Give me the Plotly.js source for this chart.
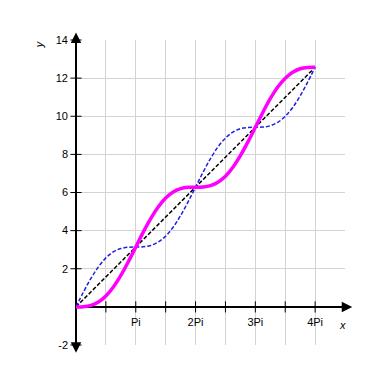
<!DOCTYPE html>
<html>
<head>
<meta charset="utf-8">
<script src="https://cdn.plot.ly/plotly-3.0.1.min.js"></script>
<style>html,body{margin:0;padding:0;background:#fff;}#chart{width:384px;height:384px;}</style>
</head>
<body>
<div id="chart"></div>
<script>
var PI = Math.PI;
// x sample positions (multiples of Pi/8)
var xs = [0,0.393,0.785,1.178,1.571,1.963,2.356,2.749,3.142,3.534,3.927,4.320,4.712,5.105,5.498,5.890,6.283,
          6.676,7.069,7.461,7.854,8.247,8.639,9.032,9.425,9.817,10.210,10.603,10.996,11.388,11.781,12.174,12.566];
// magenta solid curve
var magentaY = [0,0.01,0.08,0.25,0.57,1.04,1.65,2.37,3.14,3.92,4.63,5.24,5.71,6.03,6.20,6.27,6.28,
                6.29,6.36,6.54,6.85,7.32,7.93,8.65,9.42,10.20,10.92,11.53,12.00,12.31,12.49,12.56,12.57];
// blue dashed curve
var blueY = [0,0.78,1.49,2.10,2.57,2.89,3.06,3.13,3.14,3.15,3.22,3.40,3.71,4.18,4.79,5.51,6.28,
             7.06,7.78,8.39,8.85,9.17,9.35,9.41,9.42,9.43,9.50,9.68,10.00,10.46,11.07,11.79,12.57];
// black dashed straight line
var lineX = [0, 12.566];
var lineY = [0, 12.566];

var xTickVals = [0, PI/2, PI, 3*PI/2, 2*PI, 5*PI/2, 3*PI, 7*PI/2, 4*PI, 9*PI/2];
var xTickText = ['', '', 'Pi', '', '2Pi', '', '3Pi', '', '4Pi', ''];
var yTickVals = [-2, 0, 2, 4, 6, 8, 10, 12, 14];
var yTickText = ['-2', '', '2', '4', '6', '8', '10', '12', '14'];

var xMarkX = [PI/2, PI, 3*PI/2, 2*PI, 5*PI/2, 3*PI, 7*PI/2, 4*PI];
var yMarkY = [-2, 2, 4, 6, 8, 10, 12, 14];

var traces = [
  {x: xMarkX, y: xMarkX.map(function(){return 0;}), mode: 'markers', cliponaxis: false, hoverinfo: 'skip',
   marker: {symbol: 'line-ns', size: 8, line: {width: 1, color: '#000'}}},
  {x: yMarkY.map(function(){return 0;}), y: yMarkY, mode: 'markers', cliponaxis: false, hoverinfo: 'skip',
   marker: {symbol: 'line-ew', size: 8, line: {width: 1, color: '#000'}}},
  {x: lineX, y: lineY, mode: 'lines', line: {color: '#000', width: 1.5, dash: '4px,2px'}},
  {x: xs, y: blueY, mode: 'lines', line: {color: '#1f1fe0', width: 1.5, dash: '4px,2px', shape: 'spline'}},
  {x: xs, y: magentaY, mode: 'lines', line: {color: '#ff00ff', width: 3.5, shape: 'spline'}}
];

function arrowAnn(x, y, ax, ay) {
  return {text: '', xref: 'paper', yref: 'paper', x: x, y: y, ax: ax, ay: ay,
          showarrow: true, arrowhead: 2, arrowsize: 1.4, arrowwidth: 1.5, arrowcolor: '#000'};
}

var layout = {
  width: 384, height: 384,
  margin: {l: 76, r: 39, t: 40, b: 39},
  paper_bgcolor: '#fff', plot_bgcolor: '#fff',
  showlegend: false,
  font: {family: 'Liberation Sans, Arial, sans-serif', size: 11, color: '#000'},
  xaxis: {range: [0, 9*PI/2], tickmode: 'array', tickvals: xTickVals, ticktext: xTickText,
          showgrid: true, gridcolor: '#d3d3d3', gridwidth: 1,
          zeroline: true, zerolinecolor: '#000', zerolinewidth: 1.5,
          showline: false, ticks: '', anchor: 'free', position: 0.125, ticklabelstandoff: 7},
  yaxis: {range: [-2, 14], tickmode: 'array', tickvals: yTickVals, ticktext: yTickText,
          showgrid: true, gridcolor: '#d3d3d3', gridwidth: 1,
          zeroline: true, zerolinecolor: '#000', zerolinewidth: 1.5,
          showline: false, ticks: '', ticklabelstandoff: 7},
  annotations: [
    {text: 'y', xref: 'paper', yref: 'paper', x: -0.105, xanchor: 'right', y: 1.005, showarrow: false, textangle: -90,
     font: {size: 11, style: 'italic', color: '#000'}},
    {text: 'x', xref: 'paper', yref: 'paper', x: 0.972, xanchor: 'left', y: 0.04, showarrow: false,
     font: {size: 11, style: 'italic', color: '#000'}},
    arrowAnn(0, 1.025, 0, 10),
    arrowAnn(0, -0.025, 0, -10),
    arrowAnn(1.027, 0.125, -10, 0)
  ]
};

Plotly.newPlot('chart', traces, layout, {staticPlot: true, displayModeBar: false});
</script>
</body>
</html>
